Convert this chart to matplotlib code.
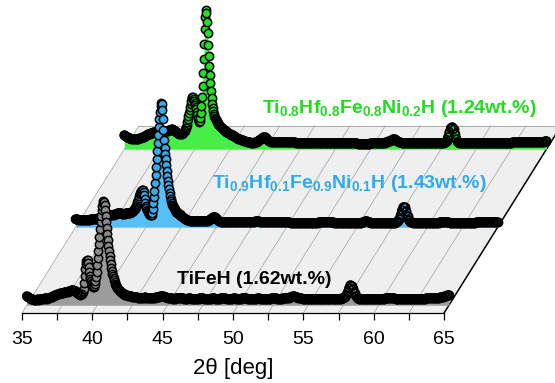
import numpy as np
import matplotlib.pyplot as plt
from matplotlib.transforms import Affine2D

plt.rcParams['font.family'] = 'Liberation Sans'
plt.rcParams['mathtext.fontset'] = 'custom'
plt.rcParams['mathtext.rm'] = 'Liberation Sans:bold'
plt.rcParams['mathtext.it'] = 'Liberation Sans:bold'
plt.rcParams['mathtext.bf'] = 'Liberation Sans:bold'

# XRD scans, intensity in a.u.
# each scan is a list of segments: (first 2theta, step, intensities)
tifeh_scan = [
    (35.0, 0.1, [9, 8, 7, 6, 6, 5, 5, 5, 6, 5,
                 6, 6, 6, 7, 6, 7, 7, 8, 8, 9,
                 10, 10, 11, 11, 12, 12, 12, 13, 13, 13,
                 14, 14, 15, 15, 14, 14, 12, 11, 10, 11]),
    (39.0, 0.04, [13, 16, 22, 29, 36, 41, 44, 45, 45, 42,
                  38, 33, 29, 26, 24, 22, 20, 19, 18, 18,
                  19, 21, 24, 28, 33, 40, 47, 54, 61, 68,
                  76, 83, 89, 95, 99, 102, 104, 103, 100, 95,
                  89, 83, 77, 71, 65, 59, 54, 49, 45, 41,
                  37, 34, 31, 29, 27, 25, 23, 21, 20, 19,
                  18, 17, 16, 15, 15, 14, 14, 13, 13, 12,
                  12, 11, 11, 11, 10]),
    (42.0, 0.1, [10, 10, 9, 9, 9, 8, 8, 8, 8, 7,
                 7, 7, 7, 7, 8, 7, 7, 7, 7, 7,
                 7, 7, 8, 8, 8, 9, 9, 9, 8, 8,
                 7, 7, 7, 7, 6, 6, 7, 7, 7, 7,
                 7, 7, 6, 6, 6, 7, 7, 6, 6, 6,
                 6, 6, 6, 7, 7, 7, 6, 6, 6, 6,
                 6, 6, 7, 7, 6, 6, 6, 6, 7, 7,
                 7, 7, 6, 6, 6, 6, 6, 7, 7, 6,
                 6, 6, 6, 7, 7, 7, 7, 6, 6, 6,
                 6, 6, 6, 6, 7, 7, 6, 6, 6, 6,
                 6, 6, 6, 6, 7, 7, 7, 7, 6, 6,
                 6, 6, 7, 7, 7, 7, 7, 8, 8, 9,
                 9, 8, 8, 7, 7, 7, 6, 6, 6, 6,
                 6, 6, 6, 6, 6, 6, 6, 6, 6, 6,
                 6, 6, 6, 6, 6, 6, 6, 6, 6, 6,
                 6, 6, 6, 6, 7, 7, 8, 10, 13, 17,
                 20, 19, 16, 12, 9, 7, 6, 6, 6, 6,
                 6, 6, 6, 6, 6, 6, 6, 6, 6, 6,
                 6, 6, 6, 6, 6, 7, 7, 7, 7, 7,
                 7, 7, 6, 6, 6, 6, 6, 6, 6, 6,
                 6, 6, 6, 6, 6, 6, 6, 6, 6, 6,
                 6, 6, 6, 6, 7, 7, 7, 7, 7, 7,
                 7, 7, 7, 7, 8, 8, 8, 9, 9, 10,
                 10]),
]

ti09_scan = [
    (35.0, 0.1, [8, 8, 7, 7, 7, 7, 7, 7, 7, 7,
                 7, 8, 8, 8, 8, 8, 9, 9, 9, 10,
                 10, 10, 11, 11, 12, 12, 12, 12, 13, 13,
                 14, 14, 14, 13, 13, 13, 14, 14, 14, 14,
                 15, 16, 18, 20]),
    (39.32, 0.04, [21, 23, 25, 27, 29, 31, 33, 34, 35, 36,
                   37, 37, 37, 35, 32, 28, 24, 21, 19, 17,
                   16, 15, 14, 13, 13, 12, 12, 12, 14, 18,
                   24, 30, 36, 44, 52, 60, 68, 76, 84, 92,
                   100, 108, 115, 121, 124, 123, 117, 108, 97, 87,
                   79, 73, 68, 62, 56, 51, 46, 42, 38, 34,
                   31, 28, 26, 24, 22, 21, 20, 19, 18, 17,
                   16, 15, 15, 14, 14, 13, 13, 13, 12, 12]),
    (42.5, 0.1, [11, 10, 9, 8, 7,
                 7, 6, 6, 6, 6, 6, 6, 6, 6, 6,
                 6, 6, 6, 6, 6, 7, 8, 9, 10, 10,
                 9, 7, 6, 5, 5, 5, 5, 5, 5, 5,
                 5, 5, 5, 5, 5, 5, 5, 5, 5, 5,
                 5, 5, 5, 5, 5, 5, 5, 5, 6, 6,
                 6, 5, 5, 5, 5, 5, 5, 5, 5, 5,
                 5, 5, 5, 5, 5, 5, 5, 5, 5, 5,
                 5, 5, 5, 4, 4, 4, 4, 4, 4, 4,
                 4, 4, 4, 4, 4, 4, 4, 4, 4, 4,
                 4, 4, 4, 5, 5, 5, 5, 5, 5, 5,
                 5, 5, 5, 5, 4, 4, 4, 4, 4, 4,
                 4, 4, 4, 4, 4, 4, 4, 4, 4, 4,
                 4, 4, 4, 4, 5, 5, 6, 6, 5, 5,
                 4, 4, 4, 4, 4, 4, 4, 4, 4, 4,
                 4, 4, 4, 4, 4, 4, 4, 4, 5, 6,
                 8, 12, 17, 20, 20, 16, 11, 7, 5, 5,
                 4, 4, 4, 4, 4, 4, 4, 4, 4, 4,
                 4, 4, 4, 4, 4, 4, 4, 4, 4, 5,
                 5, 5, 5, 5, 5, 5, 4, 4, 4, 4,
                 4, 4, 4, 4, 4, 4, 4, 4, 4, 4,
                 4, 4, 4, 4, 4, 5, 5, 5, 5, 5,
                 5, 5, 5, 5, 5, 5, 5, 5, 5, 5,
                 5]),
]

ti08_scan = [
    (35.0, 0.1, [14, 13, 12, 11, 11, 10, 10, 10, 10, 10,
                 10, 11, 11, 12, 12, 13, 14, 15, 15, 16,
                 16, 17, 17, 17, 18, 18, 18, 18, 18, 18,
                 18, 18, 19, 19, 20, 19, 18, 17, 16, 15,
                 15, 15, 16, 18, 21]),
    (39.44, 0.04, [24, 27, 30, 33, 36, 39, 42, 45, 48, 51,
                   52, 52, 50, 48, 46, 44, 42, 40, 37, 34,
                   31, 28, 27, 28, 31, 36, 43, 52, 63, 76,
                   90, 105, 120, 132, 139, 136, 127, 116, 104, 93,
                   83, 74, 66, 58, 51, 45, 41, 38, 35, 33,
                   31, 30, 29, 28, 27, 26, 25, 24, 24, 23,
                   22, 22, 21, 21, 20, 20, 19, 19, 18, 18,
                   17, 17, 17, 16, 16, 16, 15]),
    (42.5, 0.1, [15, 14, 14, 13, 12,
                 11, 10, 10, 9, 9, 8, 8, 7, 7, 7,
                 6, 6, 6, 7, 7, 8, 9, 10, 11, 12,
                 12, 11, 9, 8, 7, 7, 7, 7, 7, 7,
                 7, 7, 7, 7, 7, 7, 7, 7, 7, 7,
                 7, 7, 6, 6, 6, 6, 6, 6, 6, 6,
                 6, 6, 6, 6, 6, 6, 6, 6, 6, 6,
                 6, 6, 6, 6, 6, 6, 6, 6, 6, 6,
                 6, 6, 6, 6, 6, 6, 6, 6, 6, 6,
                 6, 6, 6, 6, 6, 6, 5, 5, 5, 5,
                 5, 5, 5, 5, 5, 6, 6, 6, 6, 6,
                 6, 6, 6, 6, 6, 6, 7, 7, 8, 8,
                 9, 10, 10, 9, 8, 7, 7, 6, 6, 6,
                 6, 6, 6, 6, 6, 6, 6, 6, 6, 6,
                 6, 6, 6, 6, 6, 6, 6, 6, 6, 6,
                 6, 6, 6, 6, 6, 6, 6, 6, 7, 8,
                 12, 17, 21, 22, 20, 15, 10, 7, 6, 6,
                 6, 6, 6, 6, 6, 6, 6, 6, 6, 6,
                 6, 6, 6, 6, 6, 6, 6, 6, 6, 6,
                 6, 6, 6, 6, 6, 6, 6, 6, 6, 6,
                 6, 6, 6, 6, 6, 6, 7, 7, 7, 7,
                 7, 7, 7, 7, 7, 7, 7, 7, 7, 7,
                 7, 7, 7, 7, 7, 7, 7, 7, 7, 8,
                 8]),
]

samples = ['TiFeH', 'Ti0.9', 'Ti0.8']
scans = [tifeh_scan, ti09_scan, ti08_scan]
labels = ['TiFeH (1.62wt.%)',
          r'Ti$_{0.9}$Hf$_{0.1}$Fe$_{0.9}$Ni$_{0.1}$H (1.43wt.%)',
          r'Ti$_{0.8}$Hf$_{0.8}$Fe$_{0.8}$Ni$_{0.2}$H (1.24wt.%)']
label_pos = [(46.0, 29), (48.48, 125), (52.04, 200)]
label_col = ['black', '#2eaaee', '#1fdc1f']
face_col = ['#8a8a8a', '#3aabea', '#22e022']
fill_col = ['#9c9c9c', '#58bef6', '#45ef45']
depth = [0.2, 2.2, 4.2]     # position of each pattern along the depth axis
depth_back = 4.8

major_ticks = [35, 40, 45, 50, 55, 60, 65]
minor_ticks = [37.5, 42.5, 47.5, 52.5, 57.5, 62.5]

# oblique projection: one depth unit moves a plane right and up
shift_x = 1.732   # deg per depth unit
shift_y = 39.0    # a.u. per depth unit


def segment(start, step, vals):
    return start + step * np.arange(len(vals)), np.array(vals, float)


def plane(z):
    return Affine2D().translate(z * shift_x, z * shift_y)


fig = plt.figure(figsize=(5.55, 3.83), dpi=100)
ax = fig.add_axes([0, 0, 1, 1])
ax.set_xlim(33.44, 72.88)
ax.set_ylim(-70, 313)

# floor of the waterfall
front = np.array([[35, 0], [65, 0]])
back = plane(depth_back).transform(front)
floor = np.vstack([front, back[::-1]])
ax.fill(floor[:, 0], floor[:, 1], color='#efefef', zorder=0.5, lw=0)
for t in [35] + minor_ticks + major_ticks[1:-1]:
    p = plane(depth_back).transform([[t, 0]])[0]
    ax.plot([t, p[0]], [0, p[1]], color='#a0a0a0', lw=0.5, zorder=0.6)
ax.plot(back[:, 0], back[:, 1], color='#a0a0a0', lw=0.6, zorder=0.6)
ax.plot([65, back[1, 0]], [0, back[1, 1]], color='black', lw=1.1, zorder=0.7)

# patterns, back to front
for i in [2, 1, 0]:
    tr = plane(depth[i]) + ax.transData
    zo = 3 + (2 - i) * 3
    parts = [segment(*seg) for seg in scans[i]]
    tt = np.concatenate([p[0] for p in parts])
    inten = np.concatenate([p[1] for p in parts])
    ax.fill_between(tt, 0, inten, color=fill_col[i], lw=0, transform=tr, zorder=zo)
    for (start, step, vals), (x, y) in zip(scans[i], parts):
        ax.scatter(x, y, s=6.0 ** 2, c=face_col[i], edgecolors='black',
                   linewidths=1.1, transform=tr, zorder=zo + 1)
        if step >= 0.1:
            # background stretches: dense points merge into a black band
            ax.scatter(x, y, s=6.0 ** 2, facecolors='none', edgecolors='black',
                       linewidths=1.1, transform=tr, zorder=zo + 2)
    ax.text(label_pos[i][0], label_pos[i][1], labels[i], color=label_col[i],
            fontsize=14, fontweight='bold', ha='left', va='baseline', zorder=20)

# front axis
for s in ['top', 'right', 'left']:
    ax.spines[s].set_visible(False)
ax.spines['bottom'].set_position(('data', 0))
ax.spines['bottom'].set_bounds(35, 65)
ax.spines['bottom'].set_linewidth(0.9)
ax.set_facecolor('none')
ax.set_yticks([])
ax.set_xticks(major_ticks)
ax.set_xticks(minor_ticks, minor=True)
ax.tick_params(axis='x', which='both', direction='out', length=4.8, width=0.9,
               labelsize=14, pad=8.5)
ax.set_xlabel('2θ [deg]', fontsize=16)
ax.xaxis.set_label_coords(0.42, 0.066)

fig.savefig('out.png', dpi=100)
